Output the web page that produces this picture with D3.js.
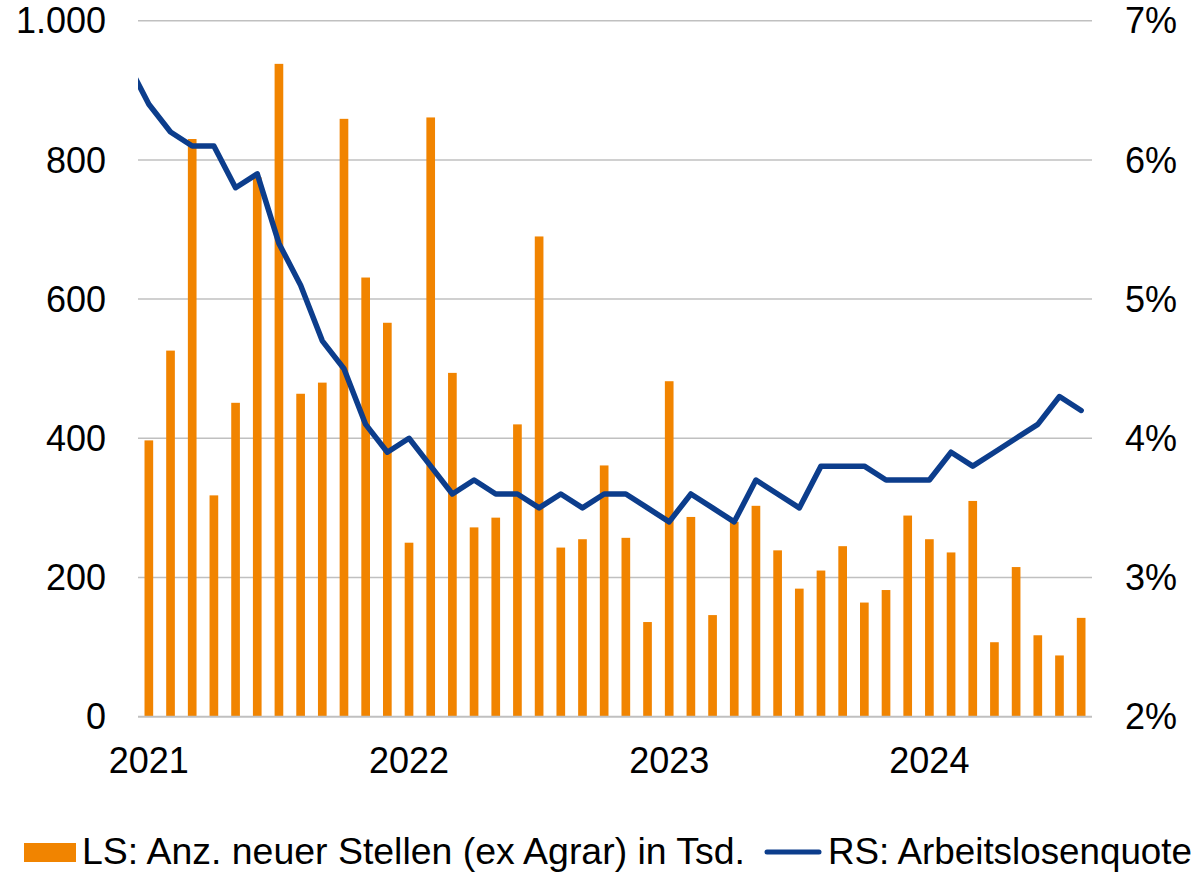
<!DOCTYPE html>
<html>
<head>
<meta charset="utf-8">
<script src="https://cdn.jsdelivr.net/npm/d3@7"></script>
<style>
  html, body { margin: 0; padding: 0; background: #ffffff; }
  svg { display: block; font-family: "Liberation Sans", Arial, sans-serif; }
</style>
</head>
<body>
<svg id="chart" width="1199" height="875"></svg>
<script>
// ---- Data ----
const months = [
  "2021-01","2021-02","2021-03","2021-04","2021-05","2021-06","2021-07","2021-08","2021-09","2021-10","2021-11","2021-12",
  "2022-01","2022-02","2022-03","2022-04","2022-05","2022-06","2022-07","2022-08","2022-09","2022-10","2022-11","2022-12",
  "2023-01","2023-02","2023-03","2023-04","2023-05","2023-06","2023-07","2023-08","2023-09","2023-10","2023-11","2023-12",
  "2024-01","2024-02","2024-03","2024-04","2024-05","2024-06","2024-07","2024-08"
];
const newJobs = [
  397, 526, 830, 318, 451, 775, 938, 464, 480, 859, 631, 566,
  250, 861, 494, 272, 286, 420, 690, 243, 255, 361, 257, 136,
  482, 287, 146, 280, 303, 239, 184, 210, 245, 164, 182, 289,
  255, 236, 310, 107, 215, 117, 88, 142
];
const rateMonths = ["2020-12"].concat(months);
const unemploymentRate = [
  6.7,
  6.4, 6.2, 6.1, 6.1, 5.8, 5.9, 5.4, 5.1, 4.7, 4.5, 4.1, 3.9,
  4.0, 3.8, 3.6, 3.7, 3.6, 3.6, 3.5, 3.6, 3.5, 3.6, 3.6, 3.5,
  3.4, 3.6, 3.5, 3.4, 3.7, 3.6, 3.5, 3.8, 3.8, 3.8, 3.7, 3.7,
  3.7, 3.9, 3.8, 3.9, 4.0, 4.1, 4.3, 4.2
];
const yearTicks = ["2021-01","2022-01","2023-01","2024-01"];
const yearLabels = ["2021","2022","2023","2024"];
const leftTicks = [0, 200, 400, 600, 800, 1000];
const rightTicks = [2, 3, 4, 5, 6, 7];
const legendLabels = ["LS: Anz. neuer Stellen (ex Agrar) in Tsd.", "RS: Arbeitslosenquote"];

(function () {
// ---- Layout ----
const svg = d3.select("#chart");
const pLeft = 138, pRight = 1092, pTop = 20.7, pBottom = 716.7;
const barColor = "#f18400", lineColor = "#0c3d8c", gridColor = "#c0c0c0";
const fontSize = 36;

const x = d3.scaleBand().domain(months).range([pLeft, pRight]).paddingInner(0.6).paddingOuter(0.3);
const step = (pRight - pLeft) / months.length;
const xLine = d3.scalePoint().domain(rateMonths).range([pLeft - step / 2, pRight - step / 2]);
const yL = d3.scaleLinear().domain([0, 1000]).range([pBottom, pTop]);
const yR = d3.scaleLinear().domain([2, 7]).range([pBottom, pTop]);

// Gridlines
svg.append("g").selectAll("line").data(leftTicks.filter(d => d > 0)).join("line")
  .attr("x1", pLeft).attr("x2", pRight)
  .attr("y1", d => yL(d)).attr("y2", d => yL(d))
  .attr("stroke", gridColor).attr("stroke-width", 1.5);

// Bars
svg.append("g").selectAll("rect").data(months).join("rect")
  .attr("x", m => x(m))
  .attr("y", (m, i) => yL(newJobs[i]))
  .attr("width", x.bandwidth())
  .attr("height", (m, i) => yL(0) - yL(newJobs[i]))
  .attr("fill", barColor);

// Baseline
svg.append("line").attr("x1", pLeft).attr("x2", pRight)
  .attr("y1", yL(0)).attr("y2", yL(0))
  .attr("stroke", gridColor).attr("stroke-width", 2);

// Line (clipped to plot)
svg.append("clipPath").attr("id", "plotclip").append("rect")
  .attr("x", pLeft).attr("y", 0).attr("width", pRight - pLeft).attr("height", pBottom + 10);
const line = d3.line().x((d, i) => xLine(rateMonths[i])).y(d => yR(d));
svg.append("path").datum(unemploymentRate)
  .attr("clip-path", "url(#plotclip)")
  .attr("d", line)
  .attr("fill", "none").attr("stroke", lineColor).attr("stroke-width", 5.5)
  .attr("stroke-linejoin", "round").attr("stroke-linecap", "round");

// Left axis labels
svg.append("g").selectAll("text").data(leftTicks).join("text")
  .attr("x", 106).attr("y", d => yL(d)).attr("dy", "0.35em")
  .attr("text-anchor", "end").attr("font-size", fontSize).attr("fill", "#000")
  .text(d => d3.format(",")(d).replace(/,/g, "."));

// Right axis labels
svg.append("g").selectAll("text").data(rightTicks).join("text")
  .attr("x", 1125).attr("y", d => yR(d)).attr("dy", "0.35em")
  .attr("text-anchor", "start").attr("font-size", fontSize).attr("fill", "#000")
  .text(d => d + "%");

// X labels
svg.append("g").selectAll("text").data(yearTicks).join("text")
  .attr("x", d => x(d) + x.bandwidth() / 2).attr("y", 773)
  .attr("text-anchor", "middle").attr("font-size", fontSize).attr("fill", "#000")
  .text((d, i) => yearLabels[i]);

// Legend
const lg = svg.append("g");
lg.append("rect").attr("x", 24).attr("y", 843).attr("width", 52).attr("height", 19).attr("fill", barColor);
lg.append("text").attr("x", 82).attr("y", 864).attr("font-size", 37).attr("fill", "#000")
  .attr("textLength", 663).attr("lengthAdjust", "spacingAndGlyphs").text(legendLabels[0]);
lg.append("line").attr("x1", 767).attr("x2", 819).attr("y1", 852).attr("y2", 852)
  .attr("stroke", lineColor).attr("stroke-width", 5).attr("stroke-linecap", "round");
lg.append("text").attr("x", 828).attr("y", 864).attr("font-size", 37).attr("fill", "#000")
  .attr("textLength", 364).attr("lengthAdjust", "spacingAndGlyphs").text(legendLabels[1]);
})();
</script>
</body>
</html>
